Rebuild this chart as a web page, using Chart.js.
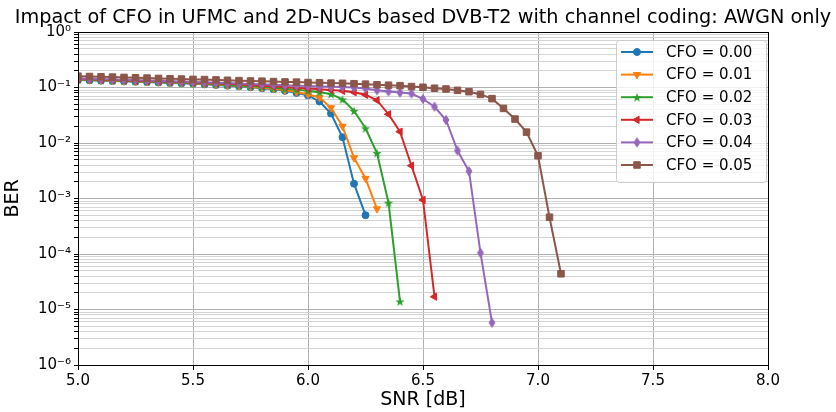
<!DOCTYPE html>
<html lang="en">
<head>
<meta charset="UTF-8">
<title>Impact of CFO in UFMC and 2D-NUCs based DVB-T2</title>
<script src="https://cdn.jsdelivr.net/npm/chart.js"></script>
<style>
  html, body { margin: 0; padding: 0; background: #fff; }
  #wrap { width: 836px; height: 412px; }
</style>
</head>
<body>
<div id="wrap"><canvas id="berChart" width="836" height="412"></canvas></div>
<script>
// SNR points (dB), one per simulation step
const snr = [5.00, 5.05, 5.10, 5.15, 5.20, 5.25, 5.30, 5.35, 5.40, 5.45,
             5.50, 5.55, 5.60, 5.65, 5.70, 5.75, 5.80, 5.85, 5.90, 5.95,
             6.00, 6.05, 6.10, 6.15, 6.20, 6.25, 6.30, 6.35, 6.40, 6.45,
             6.50, 6.55, 6.60, 6.65, 6.70, 6.75, 6.80, 6.85, 6.90, 6.95,
             7.00, 7.05, 7.10];

// BER per CFO value, starting at snr[0]
const berCfo000 = [0.137, 0.135, 0.133, 0.131, 0.129, 0.127, 0.125, 0.123, 0.121, 0.119,
                   0.117, 0.114, 0.111, 0.108, 0.105, 0.101, 0.097, 0.093, 0.087, 0.080,
                   0.072, 0.056, 0.034, 0.0127, 0.00185, 0.0005];
const berCfo001 = [0.139, 0.137, 0.135, 0.133, 0.131, 0.129, 0.127, 0.125, 0.123, 0.121,
                   0.119, 0.116, 0.113, 0.110, 0.107, 0.103, 0.099, 0.095, 0.090, 0.083,
                   0.075, 0.066, 0.043, 0.020, 0.0054, 0.0023, 0.00065];
const berCfo002 = [0.140, 0.138, 0.136, 0.134, 0.132, 0.130, 0.128, 0.126, 0.124, 0.122,
                   0.120, 0.118, 0.115, 0.112, 0.109, 0.106, 0.103, 0.099, 0.095, 0.091,
                   0.087, 0.082, 0.076, 0.061, 0.038, 0.0184, 0.0066, 0.00084, 0.000014];
const berCfo003 = [0.143, 0.141, 0.139, 0.137, 0.135, 0.133, 0.131, 0.129, 0.127, 0.125,
                   0.123, 0.121, 0.119, 0.117, 0.114, 0.111, 0.108, 0.105, 0.102, 0.099,
                   0.096, 0.093, 0.090, 0.087, 0.082, 0.074, 0.059, 0.033, 0.016, 0.0039,
                   0.00094, 0.000017];
const berCfo004 = [0.146, 0.144, 0.142, 0.140, 0.138, 0.136, 0.134, 0.132, 0.130, 0.128,
                   0.126, 0.124, 0.122, 0.120, 0.118, 0.116, 0.114, 0.112, 0.110, 0.108,
                   0.106, 0.104, 0.103, 0.102, 0.100, 0.096, 0.089, 0.085, 0.081, 0.078,
                   0.062, 0.045, 0.026, 0.0073, 0.0031, 0.000105, 0.0000058];
const berCfo005 = [0.160, 0.158, 0.156, 0.154, 0.152, 0.150, 0.148, 0.146, 0.144, 0.142,
                   0.140, 0.139, 0.137, 0.135, 0.133, 0.131, 0.130, 0.128, 0.126, 0.125,
                   0.123, 0.122, 0.120, 0.119, 0.117, 0.115, 0.112, 0.110, 0.108, 0.104,
                   0.101, 0.097, 0.094, 0.089, 0.084, 0.075, 0.063, 0.042, 0.027, 0.0157,
                   0.0059, 0.00046, 0.000044];

const seriesLabels = ['CFO = 0.00', 'CFO = 0.01', 'CFO = 0.02', 'CFO = 0.03', 'CFO = 0.04', 'CFO = 0.05'];
const seriesValues = [berCfo000, berCfo001, berCfo002, berCfo003, berCfo004, berCfo005];

// axis ticks
const xTicks = [5.0, 5.5, 6.0, 6.5, 7.0, 7.5, 8.0];
const yDecades = [1e-6, 1e-5, 1e-4, 1e-3, 1e-2, 1e-1, 1];
const yDecadeLabels = ['10\u207B\u2076', '10\u207B\u2075', '10\u207B\u2074', '10\u207B\u00B3', '10\u207B\u00B2', '10\u207B\u00B9', '10\u2070'];
const yMantissas = [1, 2, 3, 4, 5, 6, 7, 8, 9];

const titleText = 'Impact of CFO in UFMC and 2D-NUCs based DVB-T2 with channel coding: AWGN only';

// styling
const colors = ['#1f77b4', '#ff7f0e', '#2ca02c', '#d62728', '#9467bd', '#8c564b'];
const FONT = "'DejaVu Sans', 'Liberation Sans', sans-serif";

// marker shapes the library does not have: filled star and thin diamond
function makeStar(color) {
    const c = document.createElement('canvas');
    c.width = 12; c.height = 12;
    const g = c.getContext('2d');
    g.beginPath();
    for (let i = 0; i < 10; i++) {
        const r = i % 2 === 0 ? 4.8 : 2;
        const a = -Math.PI / 2 + i * Math.PI / 5;
        const px = 6 + r * Math.cos(a), py = 6.6 + r * Math.sin(a);
        if (i === 0) g.moveTo(px, py); else g.lineTo(px, py);
    }
    g.closePath();
    g.fillStyle = color;
    g.fill();
    return c;
}
function makeThinDiamond(color) {
    const c = document.createElement('canvas');
    c.width = 10; c.height = 12;
    const g = c.getContext('2d');
    g.beginPath();
    g.moveTo(5, 1.5); g.lineTo(8, 6); g.lineTo(5, 10.5); g.lineTo(2, 6);
    g.closePath();
    g.fillStyle = color; g.strokeStyle = color; g.lineWidth = 1;
    g.fill(); g.stroke();
    return c;
}

const markers = ['circle', 'triangle', makeStar(colors[2]), 'triangle', makeThinDiamond(colors[4]), 'rect'];
const markerRotation = [0, 180, 0, -90, 0, 0];
const markerRadius = [3.5, 4.2, 5, 4.2, 5, 4.6];

function isDecade(v) {
    const e = Math.log10(v);
    return Math.abs(e - Math.round(e)) < 1e-9;
}

const datasets = seriesValues.map((vals, i) => ({
    label: seriesLabels[i],
    data: vals.map((v, k) => ({ x: snr[k], y: v })),
    borderColor: colors[i],
    backgroundColor: colors[i],
    pointBackgroundColor: colors[i],
    pointBorderColor: colors[i],
    pointBorderWidth: 1,
    pointStyle: markers[i],
    pointRotation: markerRotation[i],
    pointRadius: markerRadius[i],
    borderWidth: 2,
    tension: 0,
    order: seriesValues.length - i
}));

// title centred over the axes, like matplotlib (text ~817px wide)
const axesTitle = {
    id: 'axesTitle',
    afterDraw(chart) {
        const { ctx, chartArea: a } = chart;
        ctx.save();
        ctx.font = '20px ' + FONT;
        const size = 20 * 817 / ctx.measureText(titleText).width;
        ctx.font = size.toFixed(2) + 'px ' + FONT;
        ctx.fillStyle = '#000';
        ctx.textAlign = 'center';
        ctx.textBaseline = 'middle';
        ctx.fillText(titleText, (a.left + a.right) / 2, 18);
        ctx.restore();
    }
};

// top/right spines like matplotlib
const framePlugin = {
    id: 'frame',
    afterDatasetsDraw(chart) {
        const { ctx, chartArea: a } = chart;
        ctx.save();
        ctx.strokeStyle = '#000';
        ctx.lineWidth = 1;
        ctx.strokeRect(Math.round(a.left) + 0.5, Math.round(a.top) + 0.5,
                       Math.round(a.right - a.left), Math.round(a.bottom - a.top));
        ctx.restore();
    }
};

// legend inside the axes, upper right, line + marker samples
const insideLegend = {
    id: 'insideLegend',
    afterDraw(chart) {
        const { ctx, chartArea: a } = chart;
        const w = 150, h = 142;
        const x0 = a.right - 2 - w, y0 = a.top + 8;
        ctx.save();
        ctx.beginPath();
        ctx.roundRect(x0 + 0.5, y0 + 0.5, w, h, 3);
        ctx.fillStyle = 'rgba(255,255,255,0.8)';
        ctx.fill();
        ctx.strokeStyle = '#cccccc';
        ctx.lineWidth = 1;
        ctx.stroke();
        ctx.font = '15px ' + FONT;
        ctx.textBaseline = 'middle';
        ctx.textAlign = 'left';
        seriesLabels.forEach((lab, i) => {
            const y = y0 + 12 + i * 22.6;
            ctx.strokeStyle = colors[i];
            ctx.lineWidth = 2;
            ctx.beginPath();
            ctx.moveTo(x0 + 5, y);
            ctx.lineTo(x0 + 37, y);
            ctx.stroke();
            ctx.fillStyle = colors[i];
            ctx.strokeStyle = colors[i];
            ctx.lineWidth = 1;
            Chart.helpers.drawPoint(ctx, {
                pointStyle: markers[i],
                rotation: markerRotation[i],
                radius: markerRadius[i],
                borderWidth: 1
            }, x0 + 21, y);
            ctx.fillStyle = '#000';
            ctx.fillText(lab, x0 + 50, y + 1);
        });
        ctx.restore();
    }
};

new Chart(document.getElementById('berChart'), {
    type: 'line',
    data: { datasets: datasets },
    options: {
        responsive: false,
        animation: false,
        layout: { padding: { left: 0, right: 68, top: 32, bottom: 0 } },
        plugins: {
            legend: { display: false },
            tooltip: { enabled: false },
            title: { display: false }
        },
        scales: {
            x: {
                type: 'linear',
                min: 5,
                max: 8,
                afterFit(scale) { scale.height = 47; },
                afterBuildTicks(scale) { scale.ticks = xTicks.map(v => ({ value: v })); },
                ticks: {
                    color: '#000',
                    font: { family: FONT, size: 15 },
                    padding: 2,
                    maxRotation: 0,
                    autoSkip: false,
                    callback: v => v.toFixed(1)
                },
                grid: { color: '#b0b0b0', lineWidth: 1, tickColor: '#000', tickLength: 5 },
                border: { color: '#000', width: 1 },
                title: {
                    display: true,
                    text: 'SNR [dB]',
                    color: '#000',
                    font: { family: FONT, size: 19 },
                    padding: { top: 0, bottom: 1 }
                }
            },
            y: {
                type: 'logarithmic',
                min: 1e-6,
                max: 1,
                afterFit(scale) { scale.width = 78; },
                afterBuildTicks(scale) {
                    const t = [];
                    yDecades.forEach(d => {
                        if (d === 1) { t.push({ value: 1, major: true }); return; }
                        yMantissas.forEach(m => t.push({ value: m * d, major: m === 1 }));
                    });
                    scale.ticks = t;
                },
                ticks: {
                    color: '#000',
                    font: { family: FONT, size: 15 },
                    padding: 3,
                    autoSkip: false,
                    callback: v => {
                        const i = yDecades.findIndex(d => Math.abs(Math.log10(d) - Math.log10(v)) < 1e-9);
                        return i >= 0 ? yDecadeLabels[i] : '';
                    }
                },
                grid: {
                    color: ctx => (ctx.tick && isDecade(ctx.tick.value)) ? '#b0b0b0' : '#d4d4d4',
                    lineWidth: 1,
                    tickColor: '#000',
                    tickLength: 4
                },
                border: { color: '#000', width: 1 },
                title: {
                    display: true,
                    text: 'BER',
                    color: '#000',
                    font: { family: FONT, size: 19 },
                    padding: { top: 2, bottom: 0 }
                }
            }
        }
    },
    plugins: [axesTitle, framePlugin, insideLegend]
});
</script>
</body>
</html>
